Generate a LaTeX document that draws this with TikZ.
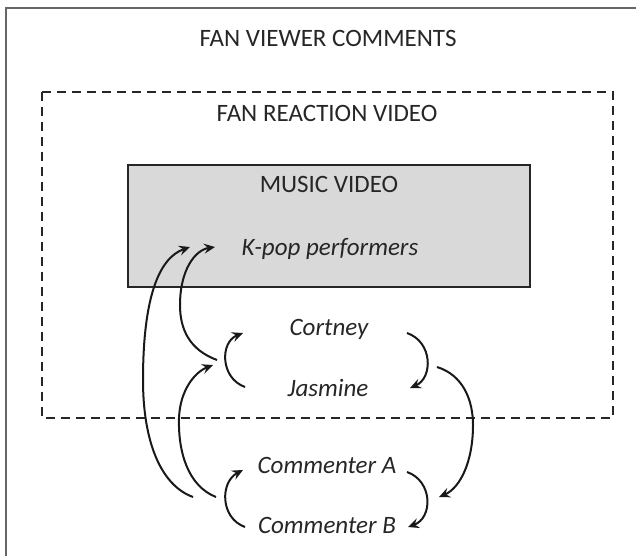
\documentclass[tikz,border=0pt]{standalone}
\usepackage{fontspec}
\setmainfont{Carlito}
\usetikzlibrary{arrows.meta}
\begin{document}
\begin{tikzpicture}[x=1pt,y=-1pt,
  lbl/.style={text=black!85, font=\fontsize{25}{30}\selectfont, anchor=base, inner sep=0pt},
  ilbl/.style={lbl, font=\fontsize{25}{30}\selectfont\itshape},
  flow/.style={line width=2pt, draw=black!90, -{Stealth[length=11pt,width=10pt,inset=4pt]}},
  outerbox/.style={line width=2.2pt, draw=black!60},
  dashbox/.style={line width=2.4pt, draw=black!85, dash pattern=on 9pt off 6pt},
  greybox/.style={line width=1.6pt, draw=black!85, fill=black!15}]
\useasboundingbox (0,0) rectangle (636,555);
\begin{scope}
\clip (0,0) rectangle (636,555);
\draw[outerbox] (6,8) rectangle (660,570);
\end{scope}
\draw[dashbox] (42,92) rectangle (613,418);
\draw[greybox] (128,165) rectangle (530,287);

\node[lbl] (fvc) at (328,46) {FAN VIEWER COMMENTS};
\node[lbl] (frv) at (327,121) {FAN REACTION VIDEO};
\node[lbl] (mv) at (329,192) {MUSIC VIDEO};
\node[ilbl] (kpop) at (330,255) {K-pop performers};
\node[ilbl] (cort) at (329,335) {Cortney};
\node[ilbl] (jas) at (328,396) {Jasmine};
\node[ilbl] (ca) at (327,473) {Commenter A};
\node[ilbl] (cb) at (327,533) {Commenter B};

% connector end points
\coordinate (kpopA) at (190,247);
\coordinate (kpopB) at (215,247);
\coordinate (cortL) at (243,333);
\coordinate (cortR) at (407,333);
\coordinate (jasL) at (245,387);
\coordinate (jasR) at (410,388);
\coordinate (pairL) at (217,360);
\coordinate (pairLin) at (213,365);
\coordinate (pairR) at (437,367);
\coordinate (caL) at (243,470);
\coordinate (caR) at (407,472);
\coordinate (cbL) at (245,527);
\coordinate (cbR) at (408,527);
\coordinate (comR) at (439,497);
\coordinate (comLa) at (193,497);
\coordinate (comLb) at (216,497);

% brackets
\draw[flow] (jasL) .. controls (220,378) and (220,342) .. (cortL);
\draw[flow] (cortR) .. controls (433,342) and (433,378) .. (jasR);
\draw[flow] (cbL) .. controls (220,518) and (220,482) .. (caL);
\draw[flow] (caR) .. controls (433,481) and (433,518) .. (cbR);
% long arcs
\draw[flow] (pairR) .. controls (463,375) and (473,400) .. (473,425) .. controls (473,462) and (460,488) .. (comR);
\draw[flow] (pairL) .. controls (190,350) and (180,330) .. (180,305) .. controls (180,270) and (195,250) .. (kpopB);
\draw[flow] (comLb) .. controls (188,486) and (178,452) .. (179,418) .. controls (180,390) and (195,372) .. (pairLin);
\draw[flow] (comLa) .. controls (160,485) and (143,440) .. (143,380) .. controls (143,300) and (158,258) .. (kpopA);
\end{tikzpicture}
\end{document}
